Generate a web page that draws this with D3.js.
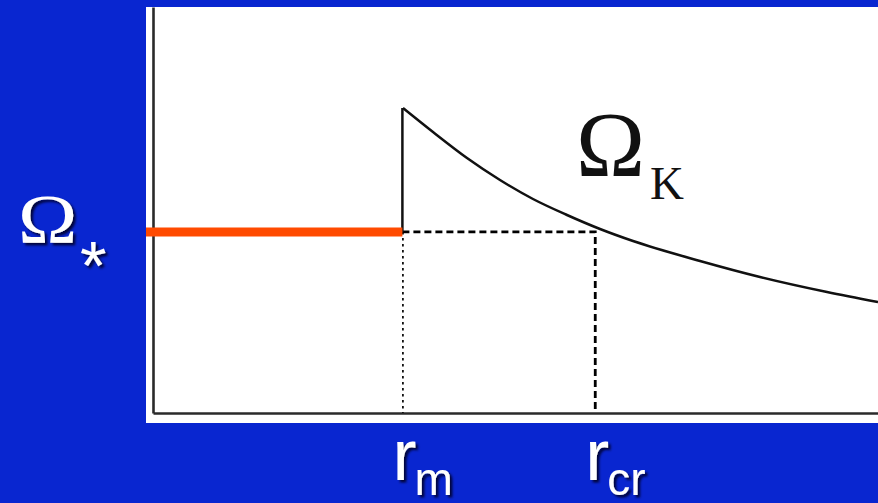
<!DOCTYPE html>
<html>
<head>
<meta charset="utf-8">
<script src="https://cdn.jsdelivr.net/npm/d3@7"></script>
<style>
  html, body { margin: 0; padding: 0; background: #0926d0; }
  svg { display: block; }
</style>
</head>
<body>
<svg id="chart" width="878" height="503"></svg>
<script>
// Keplerian angular velocity profile beyond the magnetospheric radius
const radii  = [34.48, 38.62, 43.31, 47.86, 52.41, 57.10, 61.66, 66.21, 75.45, 83.72, 92.97, 100];
const omegaK = [75.12, 69.21, 62.81, 57.39, 52.71, 48.77, 45.32, 42.36, 37.44, 33.50, 29.80, 27.34];

// Characteristic radii and the stellar spin rate
const rMag = 34.4;        // r_m
const rCor = 61.0;        // r_cr
const omegaStar = 44.6;   // Ω_*

const svg = d3.select("#chart");

const panel = { left: 146, top: 7, right: 878, bottom: 423 };
const plot  = { left: 153, top: 7, right: 878, bottom: 413 };

const x = d3.scaleLinear().domain([0, 100]).range([plot.left, plot.right]);
const y = d3.scaleLinear().domain([0, 100]).range([plot.bottom, plot.top]);

// drop shadow for the white labels on the blue background
const defs = svg.append("defs");
const f = defs.append("filter").attr("id", "shadow")
  .attr("x", "-20%").attr("y", "-20%").attr("width", "150%").attr("height", "150%");
f.append("feDropShadow").attr("dx", 2.5).attr("dy", 2.5)
  .attr("stdDeviation", 1).attr("flood-color", "#00052a").attr("flood-opacity", 0.9);

// white figure panel
svg.append("rect")
  .attr("x", panel.left).attr("y", panel.top)
  .attr("width", panel.right - panel.left).attr("height", panel.bottom - panel.top)
  .attr("fill", "#ffffff");

// axes (domain lines only)
const axisStyle = g => g.select(".domain").attr("stroke", "#2a2a2a").attr("stroke-width", 2.6);
svg.append("g").attr("transform", `translate(${plot.left},0)`)
  .call(d3.axisLeft(y).ticks(0).tickSizeOuter(0)).call(axisStyle);
svg.append("g").attr("transform", `translate(0,${plot.bottom})`)
  .call(d3.axisBottom(x).ticks(0).tickSizeOuter(0)).call(axisStyle);

// thin dotted guide below r_m
svg.append("line")
  .attr("x1", x(rMag) + 0.5).attr("x2", x(rMag) + 0.5)
  .attr("y1", y(omegaStar)).attr("y2", y(0))
  .attr("stroke", "#111").attr("stroke-width", 1.8)
  .attr("stroke-dasharray", "2.5,3.5");

// dashed Ω_* level out to r_cr and the drop to the axis
svg.append("path")
  .attr("d", d3.line()([[x(rMag), y(omegaStar)], [x(rCor), y(omegaStar)], [x(rCor), y(0)]]))
  .attr("fill", "none").attr("stroke", "#000").attr("stroke-width", 2.8)
  .attr("stroke-dasharray", "7,4");

// vertical jump at r_m up to the Keplerian curve
svg.append("line")
  .attr("x1", x(rMag)).attr("x2", x(rMag))
  .attr("y1", y(omegaStar)).attr("y2", y(omegaK[0]))
  .attr("stroke", "#111").attr("stroke-width", 2.5);

// Keplerian curve
const pts = radii.map((r, i) => [x(r), y(omegaK[i])]);
svg.append("path")
  .attr("d", d3.line().curve(d3.curveMonotoneX)(pts))
  .attr("fill", "none").attr("stroke", "#111").attr("stroke-width", 2.5);

// stellar spin rate inside r_m
svg.append("line")
  .attr("x1", panel.left).attr("x2", x(rMag))
  .attr("y1", y(omegaStar)).attr("y2", y(omegaStar))
  .attr("stroke", "#ff4a00").attr("stroke-width", 9);

// Ω_K label
const ok = svg.append("text")
  .attr("x", 576).attr("y", 176)
  .attr("font-family", "Liberation Serif, Times New Roman, serif")
  .attr("fill", "#111");
ok.append("tspan").attr("font-size", 93).text("Ω");
ok.append("tspan").attr("font-size", 47).attr("x", 650).attr("y", 199).text("K");

// Ω_* label
const os = svg.append("g").attr("filter", "url(#shadow)").attr("fill", "#ffffff");
os.append("text")
  .attr("transform", "translate(18,243) scale(1.14,1)")
  .attr("font-family", "Liberation Serif, Times New Roman, serif")
  .attr("font-size", 70).text("Ω");
os.append("text")
  .attr("x", 80).attr("y", 289)
  .attr("font-family", "Liberation Sans, Arial, sans-serif")
  .attr("font-size", 68).text("*");

// radius labels
const sans = "Liberation Sans, Arial, sans-serif";
function radiusLabel(xr, sub) {
  const g = svg.append("g").attr("filter", "url(#shadow)").attr("fill", "#ffffff")
    .attr("font-family", sans);
  g.append("text").attr("x", xr - 10).attr("y", 480).attr("font-size", 72).text("r");
  g.append("text").attr("x", xr + 12).attr("y", 495).attr("font-size", 46).text(sub);
}
radiusLabel(x(rMag), "m");
radiusLabel(x(rCor), "cr");
</script>
</body>
</html>
